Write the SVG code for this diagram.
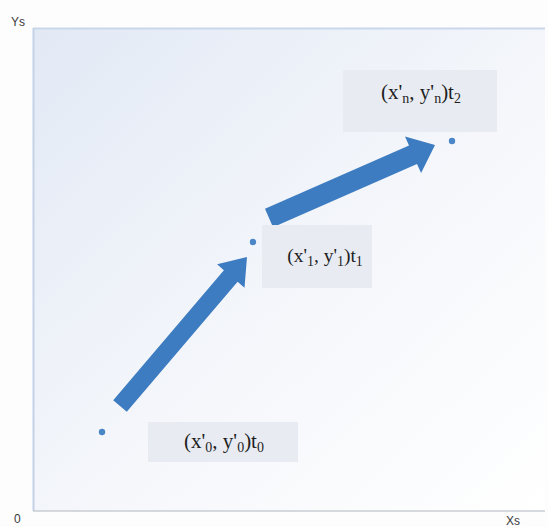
<svg xmlns="http://www.w3.org/2000/svg" width="548" height="527" viewBox="0 0 548 527">
<defs>
<linearGradient id="bg" x1="0" y1="0" x2="1" y2="1">
<stop offset="0" stop-color="#e2e9f5"/>
<stop offset="0.55" stop-color="#f5f7fb"/>
<stop offset="1" stop-color="#ffffff"/>
</linearGradient>
</defs>
<style>
.ax{font-family:"Liberation Sans",Arial,sans-serif;font-size:12px;fill:#3a3a3a}
.lb{font-family:"Liberation Serif","Times New Roman",serif;font-size:21px;fill:#1e1e1e}
.lb1{font-size:19.5px}
.sub{font-size:14px}
.box{fill:#e8ecf2}
.dot{fill:#4a86c8}
.arr{fill:#3d7cc0}
</style>
<rect x="0" y="0" width="548" height="527" fill="#fdfdfe"/>
<g id="plot">
<rect x="33" y="28" width="512" height="483" fill="url(#bg)"/>
<line x1="33.5" y1="28" x2="33.5" y2="511" stroke="#c3d2e6" stroke-width="2"/>
<line x1="33" y1="28.5" x2="545" y2="28.5" stroke="#c9d7ea" stroke-width="2"/>
<line x1="33" y1="511" x2="545" y2="511" stroke="#c8ccd2" stroke-width="1.5"/>
<text class="ax" x="11" y="26">Ys</text>
<text class="ax" x="14" y="523">0</text>
<text class="ax" x="506" y="525">Xs</text>
</g>
<g id="connectors">
<polygon class="arr" points="113.2,400.2 223.9,270.2 217.1,264.3 247,257 244.5,287.7 237.6,281.8 126.8,411.8"/>
<polygon class="arr" points="265.0,208.8 409.0,145.5 405.0,136.4 435,145 421.1,173.0 417.0,163.9 273.0,227.2"/>
</g>
<g id="p0">
<circle class="dot" cx="102" cy="432" r="3.2"/>
<rect class="box" x="148" y="422" width="150" height="40"/>
<text class="lb" x="224" y="448" text-anchor="middle">(x'<tspan class="sub" dy="4">0</tspan><tspan dy="-4">, y'</tspan><tspan class="sub" dy="4">0</tspan><tspan dy="-4">)t</tspan><tspan class="sub" dy="4">0</tspan></text>
</g>
<g id="p1">
<circle class="dot" cx="253" cy="242" r="3.2"/>
<rect class="box" x="262" y="225" width="110" height="63"/>
<text class="lb lb1" x="325" y="262" text-anchor="middle">(x'<tspan class="sub" dy="4">1</tspan><tspan dy="-4">, y'</tspan><tspan class="sub" dy="4">1</tspan><tspan dy="-4">)t</tspan><tspan class="sub" dy="4">1</tspan></text>
</g>
<g id="p2">
<circle class="dot" cx="452" cy="141" r="3.2"/>
<rect class="box" x="343" y="70" width="154" height="62"/>
<text class="lb" x="421" y="99" text-anchor="middle">(x'<tspan class="sub" dy="4">n</tspan><tspan dy="-4">, y'</tspan><tspan class="sub" dy="4">n</tspan><tspan dy="-4">)t</tspan><tspan class="sub" dy="4">2</tspan></text>
</g>
</svg>
